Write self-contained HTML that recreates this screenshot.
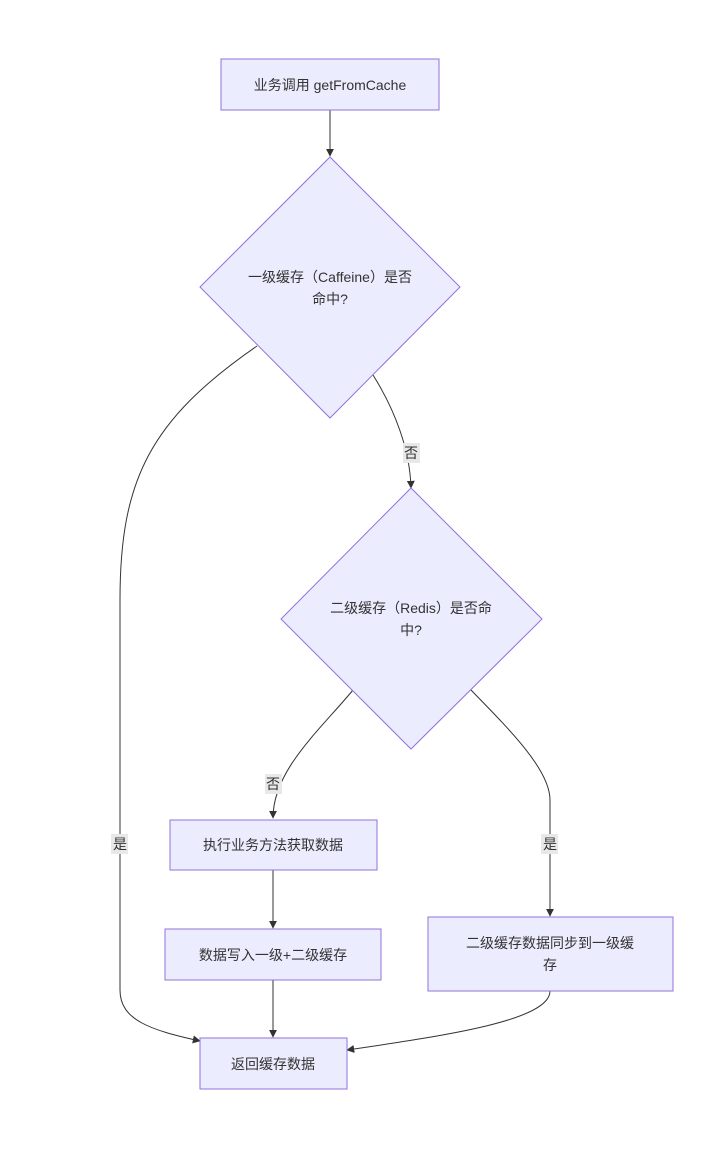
<!DOCTYPE html>
<html><head><meta charset="utf-8"><style>
html,body{margin:0;padding:0;background:#fff;}
text{font-family:"Liberation Sans","Noto Sans CJK SC",sans-serif;font-size:14px;fill:#333;}
.n{fill:#ECECFF;stroke:#9370DB;stroke-width:1;}
.e{fill:none;stroke:#333;stroke-width:1;}
.lb{fill:#e8e8e8;}
</style></head><body>
<svg width="728" height="1164" viewBox="0 0 728 1164" xmlns="http://www.w3.org/2000/svg">
<defs><marker id="a" viewBox="0 0 10 10" refX="9" refY="5" markerWidth="8" markerHeight="8" orient="auto"><path d="M0,0 L10,5 L0,10 z" fill="#333"/></marker></defs>
<!-- edges -->
<path class="e" d="M330,110 L330,156" marker-end="url(#a)"/>
<path class="e" d="M373,375 C395,410 410,450 411,488" marker-end="url(#a)"/>
<path class="e" d="M257,346 C150,420 120,480 120,600 L120,990 C120,1020 150,1030 200,1041" marker-end="url(#a)"/>
<path class="e" d="M353,690 C320,730 273,770 273,818" marker-end="url(#a)"/>
<path class="e" d="M471,690 C510,730 550,770 550,800 L550,916" marker-end="url(#a)"/>
<path class="e" d="M273,870 L273,928" marker-end="url(#a)"/>
<path class="e" d="M273,980 L273,1037" marker-end="url(#a)"/>
<path class="e" d="M550,991 C550,1020 450,1035 347,1050" marker-end="url(#a)"/>
<!-- nodes -->
<rect class="n" x="221" y="59" width="218" height="51"/>
<text x="330" y="90" text-anchor="middle">业务调用 getFromCache</text>
<polygon class="n" points="330,157 460,287 330,418 200,287"/>
<text x="330" y="282" text-anchor="middle">一级缓存（Caffeine）是否</text>
<text x="330" y="304" text-anchor="middle">命中?</text>
<polygon class="n" points="411,488 542,619 411,749 281,619"/>
<text x="411" y="613" text-anchor="middle">二级缓存（Redis）是否命</text>
<text x="411" y="635" text-anchor="middle">中?</text>
<rect class="n" x="170" y="820" width="207" height="50"/>
<text x="273" y="850" text-anchor="middle">执行业务方法获取数据</text>
<rect class="n" x="165" y="929" width="216" height="51"/>
<text x="273" y="960" text-anchor="middle">数据写入一级+二级缓存</text>
<rect class="n" x="428" y="917" width="245" height="74"/>
<text x="550" y="948" text-anchor="middle">二级缓存数据同步到一级缓</text>
<text x="550" y="970" text-anchor="middle">存</text>
<rect class="n" x="200" y="1038" width="147" height="51"/>
<text x="273" y="1069" text-anchor="middle">返回缓存数据</text>
<!-- labels -->
<rect class="lb" x="403" y="443" width="17" height="20"/><text x="411" y="458" text-anchor="middle">否</text>
<rect class="lb" x="265" y="774" width="17" height="20"/><text x="273" y="789" text-anchor="middle">否</text>
<rect class="lb" x="111" y="834" width="17" height="20"/><text x="120" y="849" text-anchor="middle">是</text>
<rect class="lb" x="541" y="834" width="17" height="20"/><text x="550" y="849" text-anchor="middle">是</text>
</svg>
</body></html>
